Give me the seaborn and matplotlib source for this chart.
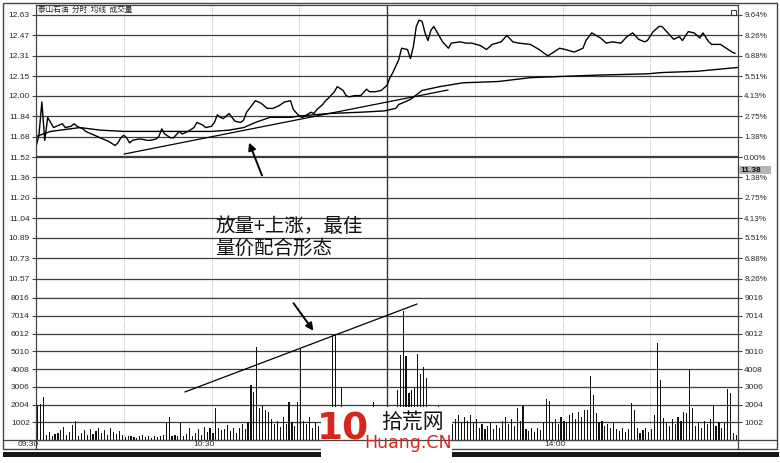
import numpy as np
import pandas as pd
import matplotlib
matplotlib.use('Agg')
import matplotlib.pyplot as plt
import seaborn as sns
from matplotlib.patches import Rectangle

sns.set_theme(style='white')
plt.rcParams['font.family'] = ['Liberation Sans', 'Noto Sans CJK SC', 'DejaVu Sans']

# ---------------- data ----------------
title_text = '泰山石油  分时  均线  成交量'
annot_line1 = '放量+上涨，最佳'
annot_line2 = '量价配合形态'
time_labels = ['09:30', '10:30', '14:00']
time_label_minutes = [0, 60, 180]

price_ticks = [12.63, 12.47, 12.31, 12.15, 12.00, 11.84, 11.68, 11.52,
               11.36, 11.20, 11.04, 10.89, 10.73, 10.57]
pct_labels = ['9.64%', '8.26%', '6.88%', '5.51%', '4.13%', '2.75%', '1.38%',
              '0.00%', '1.38%', '2.75%', '4.13%', '5.51%', '6.88%', '8.26%']
prev_close = 11.52
last_price_label = '11.38'

vol_ticks = [1002, 2004, 3006, 4008, 5010, 6012, 7014, 8016]
vol_labels_left = ['1002', '2004', '3006', '4008', '5010', '6012', '7014', '8016']
vol_labels_right = ['1002', '2004', '3006', '4008', '5010', '6012', '7014', '9016']

price_minutes = [0, 1, 2, 3, 4, 5, 6, 7, 9, 10, 12, 13, 14, 16, 17, 18, 20, 22, 24, 25,
                 27, 28, 29, 30, 31, 32, 33, 35, 36, 38, 39, 41, 42, 43, 44, 46, 47, 49, 50, 52,
                 54, 55, 57, 58, 60, 61, 62, 63, 64, 66, 67, 68, 70, 71, 72, 74, 75, 77, 78, 79,
                 81, 82, 83, 85, 87, 88, 90, 91, 92, 94, 95, 96, 98, 99, 100, 102, 103, 105, 106, 107,
                 109, 111, 113, 114, 116, 118, 119, 120, 121, 122, 124, 125, 127, 128, 129, 130, 131, 132, 133, 134,
                 135, 136, 137, 139, 141, 142, 145, 147, 149, 152, 154, 156, 159, 161, 163, 165, 169, 172, 175, 177,
                 179, 181, 184, 187, 188, 190, 193, 195, 197, 200, 202, 204, 206, 208, 209, 211, 213, 214, 216, 218,
                 220, 221, 223, 225, 227, 228, 230, 231, 234, 236, 238, 239]
price_values = [11.60, 11.69, 11.95, 11.65, 11.83, 11.79, 11.75, 11.76, 11.78, 11.75, 11.76, 11.78, 11.76, 11.74, 11.72, 11.71, 11.69, 11.67, 11.65, 11.64,
                11.61, 11.63, 11.67, 11.69, 11.67, 11.63, 11.65, 11.66, 11.66, 11.65, 11.65, 11.66, 11.68, 11.74, 11.70, 11.67, 11.67, 11.72, 11.70, 11.72,
                11.75, 11.79, 11.77, 11.75, 11.76, 11.79, 11.85, 11.83, 11.82, 11.86, 11.83, 11.80, 11.79, 11.81, 11.87, 11.93, 11.96, 11.94, 11.92, 11.90,
                11.90, 11.91, 11.92, 11.95, 11.96, 11.89, 11.84, 11.83, 11.84, 11.87, 11.86, 11.89, 11.93, 11.96, 11.98, 12.03, 12.07, 12.04, 12.00, 11.99,
                12.00, 12.00, 12.05, 12.03, 12.03, 12.04, 12.06, 12.08, 12.14, 12.18, 12.28, 12.37, 12.36, 12.29, 12.38, 12.54, 12.59, 12.58, 12.49, 12.43,
                12.51, 12.54, 12.50, 12.42, 12.37, 12.41, 12.42, 12.41, 12.41, 12.39, 12.36, 12.40, 12.42, 12.47, 12.42, 12.41, 12.40, 12.36, 12.31, 12.34,
                12.37, 12.36, 12.34, 12.37, 12.43, 12.49, 12.45, 12.41, 12.42, 12.41, 12.46, 12.49, 12.44, 12.42, 12.43, 12.50, 12.54, 12.54, 12.49, 12.44,
                12.46, 12.43, 12.50, 12.49, 12.45, 12.49, 12.42, 12.40, 12.40, 12.37, 12.34, 12.33]

avg_minutes = [0, 5, 15, 22, 30, 39, 49, 60, 66, 71, 75, 80, 87, 90, 100, 111, 119, 123, 124, 128,
               132, 138, 146, 158, 169, 180, 192, 209, 214, 226, 240]
avg_values = [11.68, 11.72, 11.75, 11.73, 11.72, 11.72, 11.72, 11.72, 11.73, 11.75, 11.79, 11.83, 11.83, 11.84, 11.86, 11.87, 11.88, 11.90, 11.93, 11.97,
              12.04, 12.07, 12.10, 12.11, 12.14, 12.15, 12.16, 12.17, 12.18, 12.19, 12.22]

volume = [2000, 2050, 2400, 300, 450, 250, 350, 400, 550, 730,
          300, 450, 850, 1050, 250, 400, 550, 300, 600, 350,
          500, 650, 400, 550, 300, 650, 450, 350, 500, 300,
          150, 200, 250, 150, 100, 200, 300, 150, 250, 100,
          200, 150, 250, 300, 960, 1300, 200, 300, 250, 1000,
          200, 350, 700, 250, 400, 600, 300, 750, 450, 700,
          400, 1800, 700, 550, 600, 850, 500, 650, 400, 700,
          900, 600, 1000, 3100, 2700, 5250, 1800, 2000, 1700, 1600,
          1200, 900, 1100, 750, 1300, 900, 2150, 1000, 800, 2150,
          5200, 1100, 900, 1300, 700, 1000, 800, 1200, 600, 900,
          1300, 5900, 5900, 1200, 3000, 1850, 900, 600, 1100, 800,
          500, 950, 700, 400, 800, 2150, 900, 600, 1000, 800,
          1200, 1500, 1700, 2800, 4800, 7290, 4750, 2650, 2800, 2950,
          4850, 3700, 4100, 3500, 1500, 900, 1000, 1900, 800, 1100,
          700, 1850, 900, 1200, 1400, 1000, 1300, 1100, 1400, 1000,
          1200, 700, 900, 600, 800, 950, 600, 850, 700, 1100,
          1300, 900, 1200, 800, 1800, 1100, 1900, 600, 500, 700,
          450, 650, 550, 1000, 2300, 2200, 1000, 1200, 900, 1300,
          1100, 1000, 1400, 1500, 1200, 1600, 1300, 1700, 1700, 3600,
          2550, 1500, 1000, 1100, 800, 900, 700, 1000, 600, 500,
          650, 450, 600, 2100, 1700, 700, 400, 550, 650, 450,
          600, 1400, 5500, 3400, 1250, 1000, 800, 1200, 900, 1300,
          1100, 1600, 1500, 4000, 1800, 800, 1000, 700, 1100, 900,
          1200, 2000, 800, 1000, 700, 950, 2900, 2650, 400, 300]

# hand-drawn annotation lines (minute, value)
price_trend = ([30.1, 140.9], [11.543, 12.044])
price_arrow = ((77.6, 11.356), (72.5, 11.653))   # tail, head
vol_trend = ([50.9, 130.3], [2710, 7678])
vol_arrow = ((87.5, 7847), (95.4, 6040))

# ---------------- figure ----------------
W, H = 780, 463
fig = plt.figure(figsize=(W / 100, H / 100), dpi=100)
fig.patch.set_facecolor('white')


def rect(l, t, r, b):
    return [l / W, 1 - b / H, (r - l) / W, (b - t) / H]


GRID = '#3c3c3c'
TXT = '#2a2a2a'

ax_p = fig.add_axes(rect(36, 5, 738, 298))
ax_v = fig.add_axes(rect(36, 298, 738, 440))

for ax in (ax_p, ax_v):
    ax.set_facecolor('white')
    ax.set_xlim(0, 240)
    for m in range(30, 240, 30):
        if m == 120:
            ax.axvline(m, color='#333333', lw=1.0, zorder=0)
        else:
            ax.axvline(m, color='#a0a0a0', lw=0.6, ls=(0, (1, 1.5)), zorder=0)
    for s in ax.spines.values():
        s.set_color('#444444')
        s.set_linewidth(0.9)
    ax.set_xticks([])

# price panel
ax_p.set_ylim(10.418, 12.708)
for t in price_ticks:
    ax_p.axhline(t, color=GRID, lw=1.6 if t == prev_close else 0.9, zorder=0)
sns.lineplot(x=avg_minutes, y=avg_values, ax=ax_p, color='black', lw=1.0,
             sort=False, estimator=None)
sns.lineplot(x=price_minutes, y=price_values, ax=ax_p, color='black', lw=1.0,
             sort=False, estimator=None)
ax_p.plot(price_trend[0], price_trend[1], color='black', lw=0.9)
ax_p.annotate('', xy=price_arrow[1], xytext=price_arrow[0],
              arrowprops=dict(arrowstyle='-|>', color='black', lw=1.4, mutation_scale=11))
ax_p.set_yticks(price_ticks, labels=[f'{t:.2f}' for t in price_ticks])
ax_p.tick_params(axis='y', length=3, width=0.8, color='#444444', pad=1.5,
                 labelsize=6, labelcolor=TXT, left=True)
ax_p.set_ylabel('')
ax_p.set_xlabel('')
axp_r = ax_p.twinx()
axp_r.set_ylim(ax_p.get_ylim())
axp_r.set_yticks(price_ticks, labels=pct_labels)
axp_r.tick_params(axis='y', length=3, width=0.8, color='#444444', pad=1.5,
                  labelsize=5.8, labelcolor=TXT, right=True)
axp_r.spines[:].set_visible(False)

# volume panel
ax_v.set_ylim(0, 8016)
for t in vol_ticks:
    ax_v.axhline(t, color=GRID, lw=1.4 if t == vol_ticks[-1] else 0.9, zorder=0)
vol_df = pd.DataFrame({'minute': np.arange(len(volume)) + 0.5, 'vol': volume})
sns.barplot(data=vol_df, x='minute', y='vol', native_scale=True, width=0.4,
            color='#111111', saturation=1, errorbar=None, linewidth=0, ax=ax_v)
ax_v.set_xlim(0, 240)
ax_v.set_xticks([])
ax_v.set_xlabel('')
ax_v.set_ylabel('')
ax_v.plot(vol_trend[0], vol_trend[1], color='black', lw=0.9)
ax_v.annotate('', xy=vol_arrow[1], xytext=vol_arrow[0],
              arrowprops=dict(arrowstyle='-|>', color='black', lw=1.4, mutation_scale=11))
ax_v.set_yticks(vol_ticks, labels=vol_labels_left)
ax_v.tick_params(axis='y', length=3, width=0.8, color='#444444', pad=1.5,
                 labelsize=6, labelcolor=TXT, left=True)
axv_r = ax_v.twinx()
axv_r.set_ylim(ax_v.get_ylim())
axv_r.set_yticks(vol_ticks, labels=vol_labels_right)
axv_r.tick_params(axis='y', length=3, width=0.8, color='#444444', pad=1.5,
                  labelsize=6, labelcolor=TXT, right=True)
axv_r.spines[:].set_visible(False)

# ---------------- overlay (pixel coordinates) ----------------
ov = fig.add_axes([0, 0, 1, 1], zorder=10)
ov.set_xlim(0, W)
ov.set_ylim(H, 0)
ov.axis('off')
ov.patch.set_alpha(0)

# frame
ov.add_patch(Rectangle((2.5, 3), 774, 446, fill=False, edgecolor='#444444', lw=1.0))
ov.plot([2.5, 776.5], [440, 440], color='#444444', lw=0.9)
ov.plot([36, 36], [440, 449], color='#444444', lw=0.9)
ov.plot([738, 738], [440, 449], color='#444444', lw=0.9)
ov.add_patch(Rectangle((3, 451.5), 776, 5, facecolor='#161616', edgecolor='none'))

# title
ov.text(38, 10, title_text, fontsize=5.5, family=['Noto Sans CJK SC', 'DejaVu Sans'],
        color='#222222', va='center', ha='left')
# small window icon top right
ov.add_patch(Rectangle((731, 10), 5, 5, fill=False, edgecolor='#333333', lw=0.7))

# time labels
for lab, m in zip(time_labels, time_label_minutes):
    x = 36 + m * 702 / 240 - 8
    ov.text(x, 444.5, lab, fontsize=6, color=TXT, ha='center', va='center')

# last price box on right axis
ov.add_patch(Rectangle((738.5, 166), 32, 8, facecolor='#b4b4b4', edgecolor='none'))
ov.text(740, 170, last_price_label, fontsize=6, color='#111111', ha='left', va='center',
        weight='bold')

# annotation text
ov.text(215, 226, annot_line1, fontsize=14, family=['Noto Sans CJK SC', 'DejaVu Sans'],
        color='#111111', ha='left', va='center')
ov.text(215, 248, annot_line2, fontsize=14, family=['Noto Sans CJK SC', 'DejaVu Sans'],
        color='#111111', ha='left', va='center')

# watermark logo
ov.add_patch(Rectangle((321, 407), 131, 52, facecolor='white', edgecolor='none'))
ov.text(343, 430, '10', fontsize=27, weight='heavy', color='#d7261d', ha='center',
        va='center', family=['DejaVu Sans'])
ov.text(412, 422, '拾荒网', fontsize=15, family=['Noto Sans CJK SC', 'DejaVu Sans'],
        color='#111111', ha='center', va='center')
ov.text(408, 443, 'Huang.CN', fontsize=12.5, family=['DejaVu Sans'],
        color='#d7261d', ha='center', va='center')

fig.savefig('out.png', dpi=100, facecolor='white')
